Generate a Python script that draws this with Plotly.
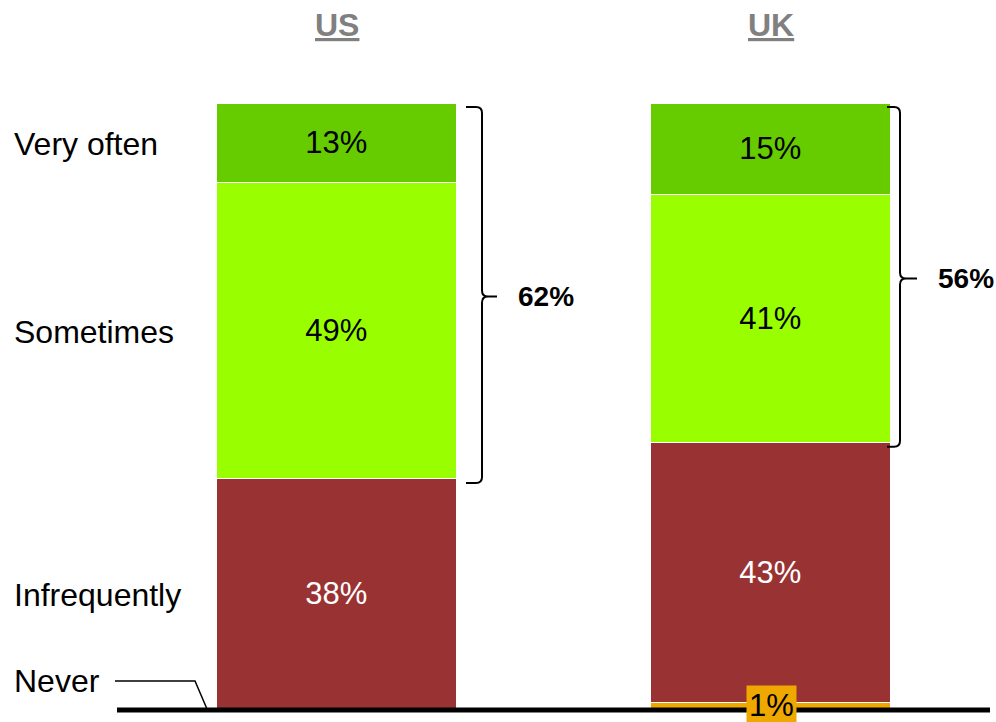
import plotly.graph_objects as go

# ---- data -------------------------------------------------------------
countries = ["US", "UK"]
categories = ["Never", "Infrequently", "Sometimes", "Very often"]
never = [0, 1]
infrequently = [38, 43]
sometimes = [49, 41]
very_often = [13, 15]

series = {
    "Never": never,
    "Infrequently": infrequently,
    "Sometimes": sometimes,
    "Very often": very_often,
}

# ---- styling ----------------------------------------------------------
FONT = "Liberation Sans, Arial, Helvetica, sans-serif"
fill = {
    "Never": "#EFA800",
    "Infrequently": "#993333",
    "Sometimes": "#99FF00",
    "Very often": "#66CC00",
}
ink = {
    "Never": "black",
    "Infrequently": "white",
    "Sometimes": "black",
    "Very often": "black",
}

W, H = 996, 722
MT, MB = 104, 13
PLOT_H = H - MT - MB
X_RANGE = [-0.7765, 1.5184]
PX_PER_X = W / (X_RANGE[1] - X_RANGE[0])
BAR_W = 0.553
xs = list(range(len(countries)))


def px_x(x):
    return (x - X_RANGE[0]) * PX_PER_X


def dat_x(px):
    return px / PX_PER_X + X_RANGE[0]


def px_y(y):
    return MT + PLOT_H * (1 - y / 100.0)


def dat_y(py):
    return (1 - (py - MT) / PLOT_H) * 100.0


fig = go.Figure()

for cat in categories:
    vals = series[cat]
    fig.add_trace(go.Bar(
        x=xs,
        y=vals,
        width=BAR_W,
        name=cat,
        marker=dict(color=fill[cat], line=dict(color="white", width=1.5)),
        text=[f"{v}%" if v >= 5 else "" for v in vals],
        textposition="inside",
        insidetextanchor="middle",
        textangle=0,
        textfont=dict(family=FONT, size=31, color=ink[cat]),
        hoverinfo="skip",
    ))

shapes = []
annotations = []

# small segments get a boxed callout on top of the baseline
for cat in categories:
    for i, v in enumerate(series[cat]):
        if 0 < v < 5:
            base = sum(series[c][i] for c in categories[:categories.index(cat)])
            annotations.append(dict(
                x=xs[i], y=base + v / 2, xref="x", yref="y",
                text=f"{v}%", showarrow=False,
                font=dict(family=FONT, size=31, color="black"),
                bgcolor=fill[cat], borderpad=2,
                xanchor="center", yanchor="middle",
            ))

# country headings
for i, c in enumerate(countries):
    annotations.append(dict(
        x=xs[i], y=(H - MB - 25) / PLOT_H,
        xref="x", yref="paper",
        text=f"<b><u>{c}</u></b>", showarrow=False,
        font=dict(family=FONT, size=32, color="#808080"),
        xanchor="center", yanchor="middle",
    ))

# row labels on the left, aligned with the US segments
LABEL_X = 12 / W
cum = 0
for cat in categories:
    v = series[cat][0]
    mid = cum + v / 2
    cum += v
    if cat == "Never":
        continue
    annotations.append(dict(
        x=LABEL_X, y=dat_y(px_y(mid) + 1), xref="paper", yref="y",
        text=cat, showarrow=False,
        font=dict(family=FONT, size=32, color="black"),
        xanchor="left", yanchor="middle",
    ))

# "Never" label with a leader line down to the US baseline
never_py = px_y(0) - 28
annotations.append(dict(
    x=LABEL_X, y=dat_y(never_py), xref="paper", yref="y",
    text="Never", showarrow=False,
    font=dict(family=FONT, size=32, color="black"),
    xanchor="left", yanchor="middle",
))
us_left_px = px_x(xs[0] - BAR_W / 2)
leader = (
    f"M {115 / W},{1 - (never_py - MT) / PLOT_H} "
    f"L {(us_left_px - 22) / W},{1 - (never_py - MT) / PLOT_H} "
    f"L {(us_left_px - 10) / W},0"
)
shapes.append(dict(type="path", xref="paper", yref="paper", path=leader,
                   line=dict(color="black", width=1.5)))

# braces grouping "Sometimes" + "Very often"
brace_offsets = [(9, 25, 40), (-4, 9, 26)]  # start, spine, tip (px from bar edge)
R = 6
for i in range(len(countries)):
    total = sometimes[i] + very_often[i]
    top_val = sum(series[c][i] for c in categories)
    edge = px_x(xs[i] + BAR_W / 2)
    xa, xv, xt = (edge + o for o in brace_offsets[i])
    yt = px_y(top_val) + 3
    yb = px_y(top_val - total) + 4
    ym = (px_y(top_val) + px_y(top_val - total)) / 2 + 5

    def P(a, b):
        return f"{dat_x(a)},{dat_y(b)}"

    path = (
        f"M {P(xa, yt)} L {P(xv - R, yt)} Q {P(xv, yt)} {P(xv, yt + R)} "
        f"L {P(xv, ym - R)} Q {P(xv, ym)} {P(xv + R, ym)} L {P(xt, ym)} "
        f"M {P(xv + R, ym)} Q {P(xv, ym)} {P(xv, ym + R)} "
        f"L {P(xv, yb - R)} Q {P(xv, yb)} {P(xv - R, yb)} L {P(xa, yb)}"
    )
    shapes.append(dict(type="path", xref="x", yref="y", path=path,
                       line=dict(color="black", width=2)))
    annotations.append(dict(
        x=dat_x(xt + 19), y=dat_y(ym), xref="x", yref="y",
        text=f"<b>{total}%</b>", showarrow=False,
        font=dict(family=FONT, size=28, color="black"),
        xanchor="left", yanchor="middle",
    ))

# heavy baseline, drawn in paper space so it is not clipped by the plot area
shapes.append(dict(type="line", xref="paper", yref="paper",
                   x0=117 / W, x1=990 / W,
                   y0=-1.0 / PLOT_H, y1=-1.0 / PLOT_H,
                   line=dict(color="black", width=5), layer="above"))

fig.update_layout(
    width=W, height=H,
    margin=dict(l=0, r=0, t=MT, b=MB, pad=0),
    barmode="stack",
    bargap=0,
    showlegend=False,
    plot_bgcolor="white",
    paper_bgcolor="white",
    xaxis=dict(range=X_RANGE, visible=False, fixedrange=True),
    yaxis=dict(range=[0, 100], visible=False, fixedrange=True),
    shapes=shapes,
    annotations=annotations,
    hovermode=False,
    font=dict(family=FONT),
)

fig.write_html("out.html")
